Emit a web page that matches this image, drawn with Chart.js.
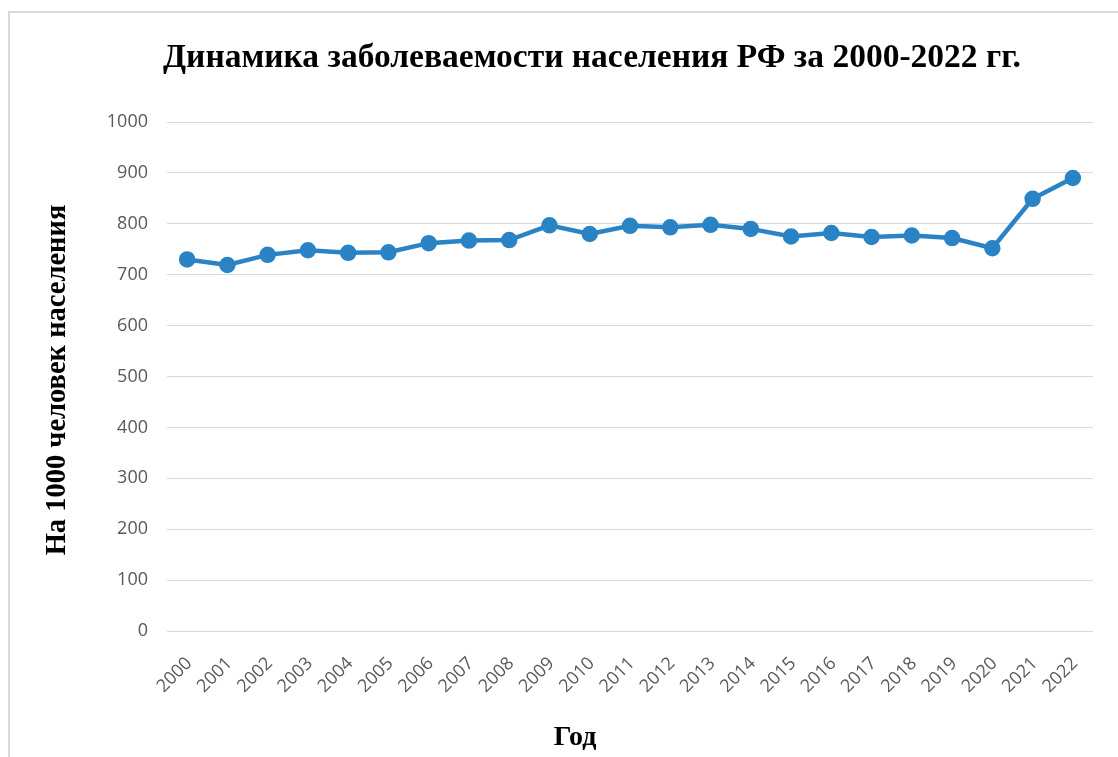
<!DOCTYPE html>
<html>
<head>
<meta charset="utf-8">
<script src="https://cdn.jsdelivr.net/npm/chart.js@4"></script>
<style>
html,body{margin:0;padding:0;background:#fff;}
#wrap{position:relative;width:1118px;height:757px;overflow:hidden;}
#frame{position:absolute;left:8px;top:11px;width:1200px;height:800px;border-left:2px solid #d9d9d9;border-top:2px solid #d9d9d9;box-sizing:border-box;}
canvas{position:absolute;left:0;top:0;}
</style>
</head>
<body>
<div id="wrap">
<div id="frame"></div>
<canvas id="c" width="1118" height="757"></canvas>
</div>
<script>
const years = ['2000','2001','2002','2003','2004','2005','2006','2007','2008','2009','2010','2011','2012','2013','2014','2015','2016','2017','2018','2019','2020','2021','2022'];
const incidence = [730,719,739,748,743,744,762,767,768,797,780,796,793,798,790,775,782,774,777,772,752,849,890];
const yTicks = [0,100,200,300,400,500,600,700,800,900,1000];

const chartTitle = 'Динамика заболеваемости населения РФ за 2000-2022 гг.';
const yTitle = 'На 1000 человек населения';
const xTitle = 'Год';

const textPlugin = {
  id: 'texts',
  afterDraw(chart) {
    const ctx = chart.ctx;
    ctx.save();
    ctx.fillStyle = '#000';
    ctx.textAlign = 'center';
    ctx.textBaseline = 'middle';
    ctx.font = 'bold 33.5px "Liberation Serif"';
    ctx.fillText(chartTitle, 592, 58);
    ctx.font = 'bold 28px "Liberation Serif"';
    ctx.fillText(xTitle, 575, 738);
    ctx.translate(58, 380);
    ctx.rotate(-Math.PI / 2);
    ctx.font = 'bold 28.5px "Liberation Serif"';
    ctx.fillText(yTitle, 0, 0);
    ctx.restore();
  }
};

new Chart(document.getElementById('c'), {
  type: 'line',
  data: {
    labels: years,
    datasets: [{
      data: incidence,
      borderColor: '#2a83c4',
      backgroundColor: '#2a83c4',
      borderWidth: 4.5,
      pointRadius: 6,
      pointHoverRadius: 6,
      tension: 0,
      fill: false
    }]
  },
  plugins: [textPlugin],
  options: {
    responsive: false,
    animation: false,
    layout: { padding: { left: 0, right: 25, top: 122, bottom: 0 } },
    plugins: {
      legend: { display: false },
      tooltip: { enabled: false },
      title: { display: false }
    },
    scales: {
      x: {
        offset: true,
        grid: { display: false },
        border: { display: false },
        ticks: {
          color: '#595959',
          font: { family: 'Open Sans', size: 18 },
          maxRotation: 45, minRotation: 45,
          autoSkip: false,
          padding: 14,
          labelOffset: 2
        },
        afterFit: s => { s.height = 126; }
      },
      y: {
        min: 0, max: 1000,
        afterBuildTicks: s => { s.ticks = yTicks.map(v => ({ value: v })); },
        grid: { color: '#d9d9d9', lineWidth: 1, drawTicks: false },
        border: { display: false },
        ticks: {
          color: '#595959',
          font: { family: 'Open Sans', size: 18 },
          padding: 19,
          callback: v => String(v)
        },
        afterFit: s => { s.width = 167; }
      }
    }
  }
});
</script>
</body>
</html>
